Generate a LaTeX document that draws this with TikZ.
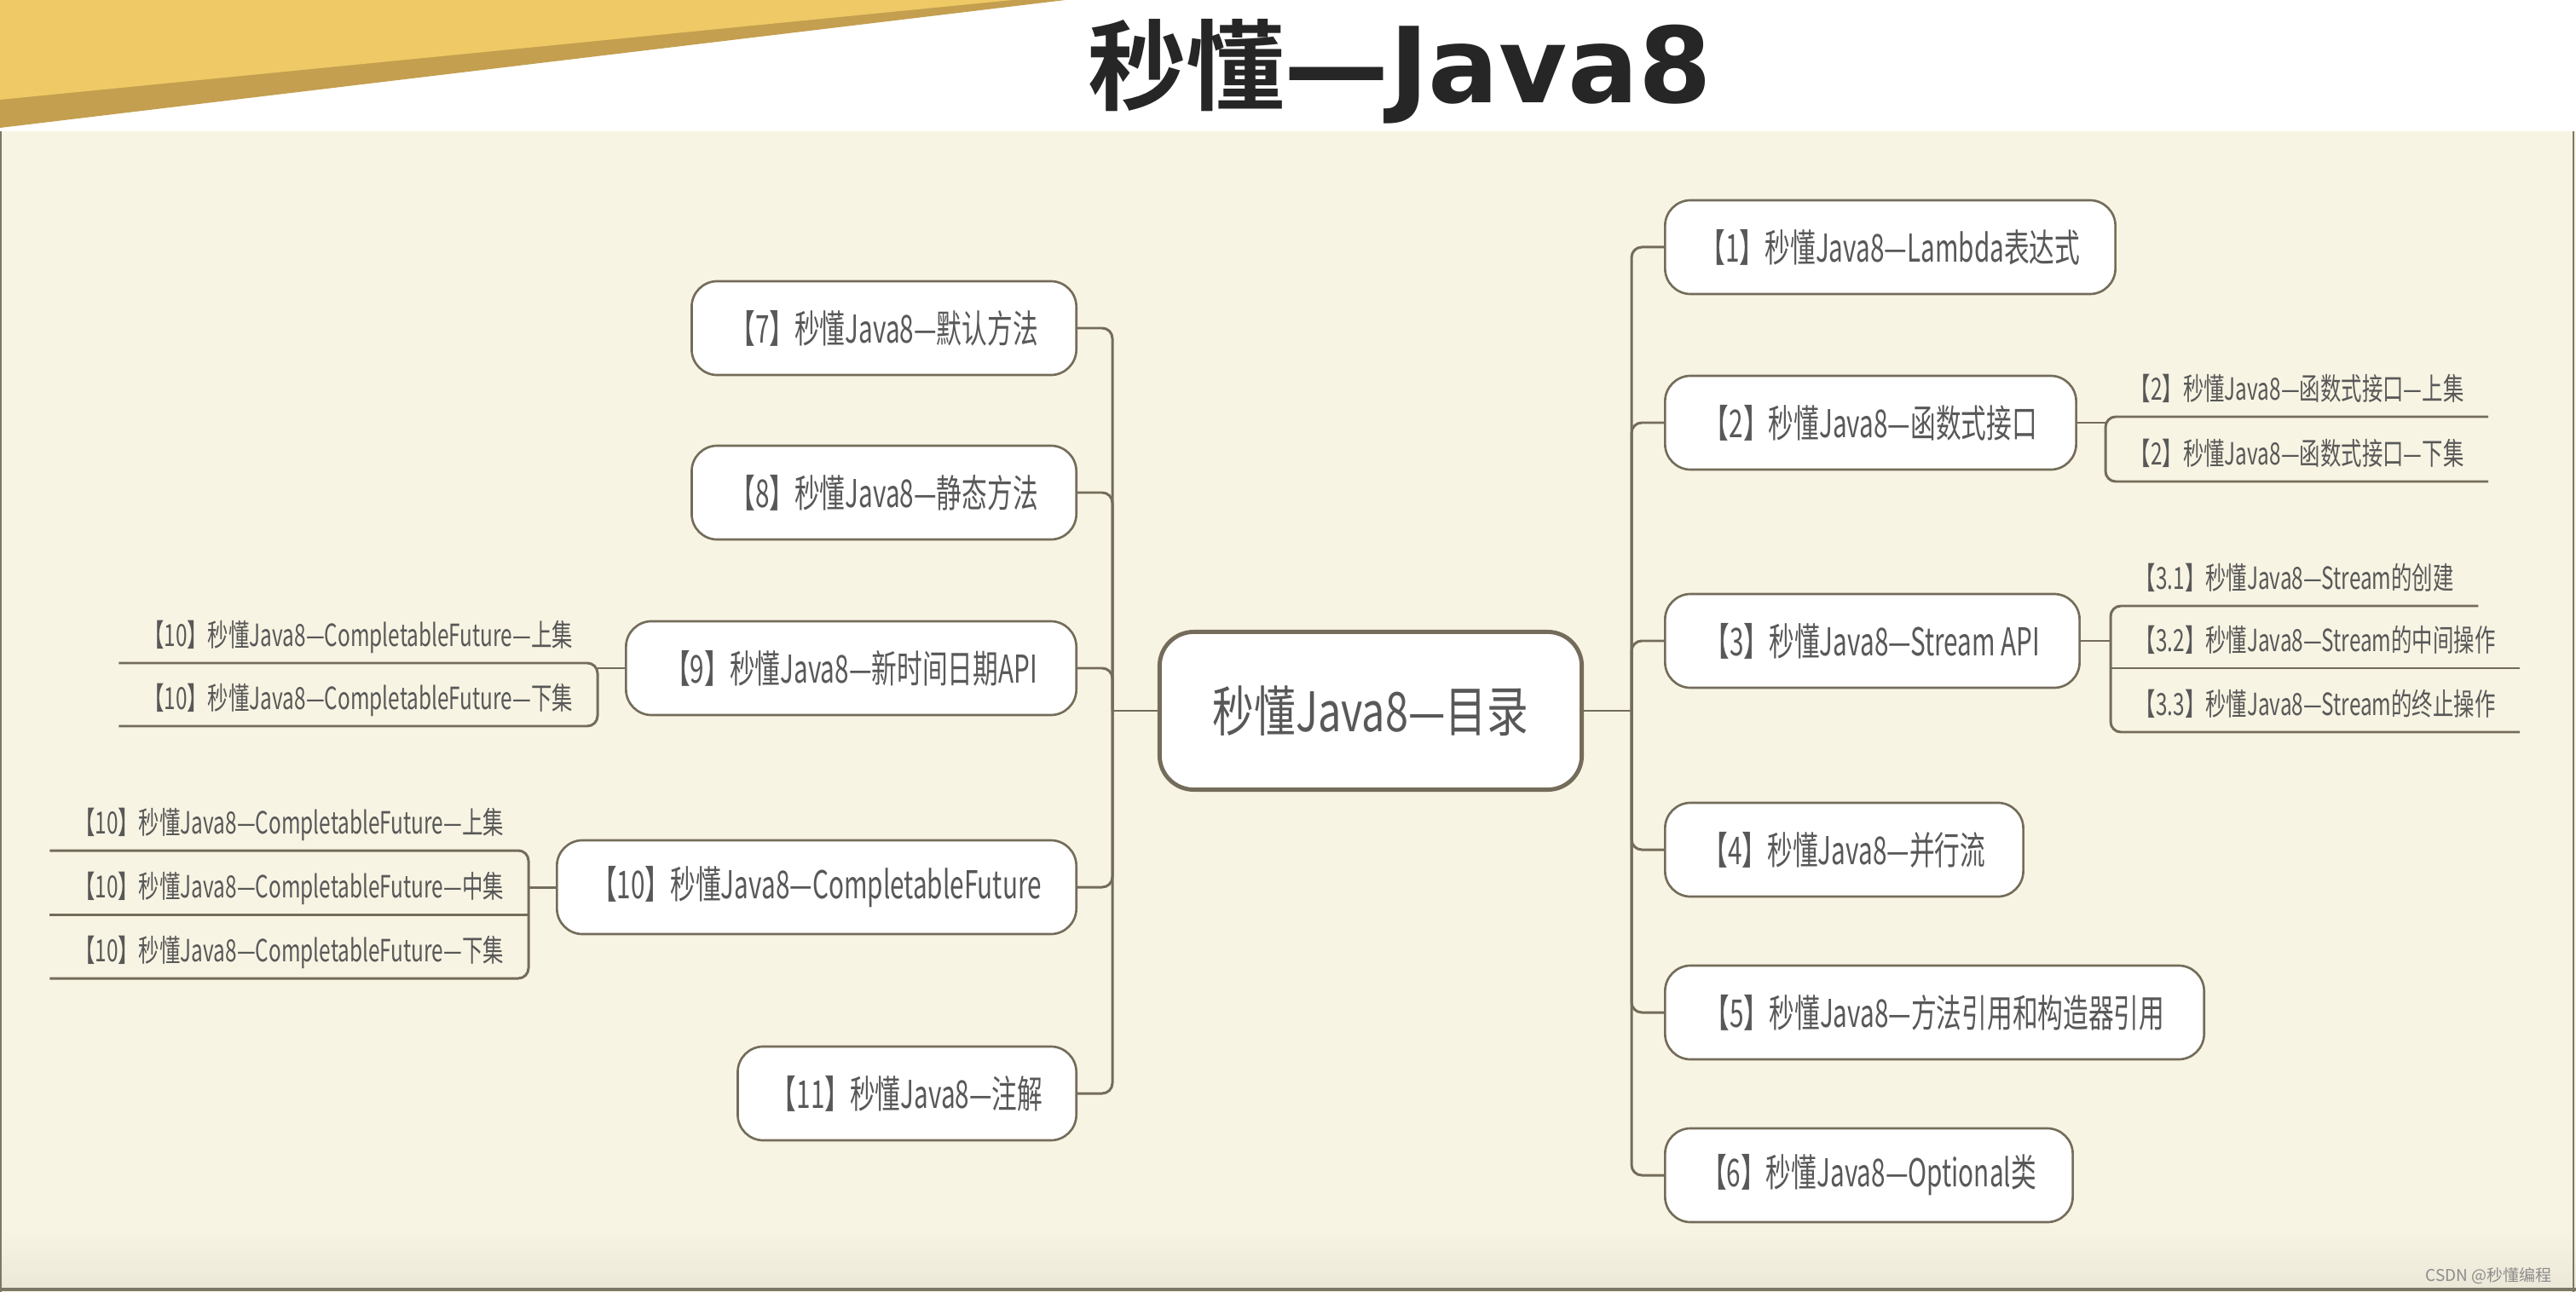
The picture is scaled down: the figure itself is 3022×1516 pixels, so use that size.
\documentclass[tikz,border=0pt]{standalone}
\usepackage{fontspec}
\setmainfont{Noto Sans CJK SC}[FakeStretch=0.66]
\newfontfamily\hubfont{Noto Sans CJK SC}[FakeStretch=0.76]
\newfontfamily\leaffont{Noto Sans CJK SC}[FakeStretch=0.68]
\newfontfamily\titlecjk{Noto Sans CJK SC Bold}
\newfontfamily\titlelatin{DejaVu Sans Bold}
\newfontfamily\markfont{Noto Sans CJK SC}
\usetikzlibrary{positioning,calc}

\definecolor{paper}{HTML}{F8F4E3}
\definecolor{paperdark}{HTML}{ECE8D8}
\definecolor{goldlight}{HTML}{EEC965}
\definecolor{golddark}{HTML}{C39F4F}
\definecolor{wire}{HTML}{746C5A}
\definecolor{ink}{HTML}{585858}
\definecolor{frame}{HTML}{7C7868}

\begin{document}
\begin{tikzpicture}[
    x=0.01cm, y=-0.01cm,
    hub/.style={draw=wire, line width=1.4pt, fill=white, rounded corners=0.4cm,
        minimum width=4.95cm, minimum height=1.85cm, text=ink,
        font=\hubfont\fontsize{18.2}{22}\selectfont},
    topic/.style={draw=wire, line width=0.75pt, fill=white, rounded corners=0.3cm,
        minimum height=1.1cm, inner xsep=0pt, text=ink,
        font=\fontsize{12.8}{15}\selectfont},
    leaf/.style={inner xsep=0.28cm, inner ysep=3.3pt, text height=0.8em, text depth=0.2em,
        text=ink, font=\leaffont\fontsize{10.2}{12}\selectfont},
    link/.style={draw=wire, line width=0.85pt, rounded corners=0.12cm},
    stub/.style={draw=wire, line width=0.85pt}]

\useasboundingbox (0,0) rectangle (3022,1516);

% --- page: white header, gold corner, cream paper
\fill[white] (0,0) rectangle (3022,154);
\fill[paper] (0,154) rectangle (3022,1516);
\shade[top color=paper, bottom color=paperdark] (0,1440) rectangle (3022,1512);
\fill[golddark] (0,0) -- (1250,0) -- (0,150) -- cycle;
\fill[goldlight] (0,0) -- (1188,0) -- (0,117) -- cycle;
\draw[frame, line width=1.2pt] (0,1513) -- (3022,1513);
\draw[frame, line width=0.4pt] (1,154) -- (1,1516);
\draw[frame, line width=0.4pt] (3019,154) -- (3019,1516);

\node[text=black!85, font=\fontsize{32.8}{38}\selectfont] (title) at (1642,84)
    {\titlecjk 秒懂\titlelatin\fontsize{35}{38}\selectfont —Java8};

% --- centre
\node[hub] (hub) at (1608,834) {秒懂Java8—目录};
\coordinate (rj) at (1914,834);
\coordinate (lj) at (1305,834);

% --- right branches
\node[topic, minimum width=5.28cm, anchor=west] (t1) at (1952,290) {【1】秒懂Java8—Lambda表达式};
\node[topic, minimum width=4.82cm, anchor=west] (t2) at (1952,496) {【2】秒懂Java8—函数式接口};
\node[topic, minimum width=4.86cm, anchor=west] (t3) at (1952,752) {【3】秒懂Java8—Stream API};
\node[topic, minimum width=4.20cm, anchor=west] (t4) at (1952,997) {【4】秒懂Java8—并行流};
\node[topic, minimum width=6.32cm, anchor=west] (t5) at (1952,1188) {【5】秒懂Java8—方法引用和构造器引用};
\node[topic, minimum width=4.78cm, anchor=west] (t6) at (1952,1379) {【6】秒懂Java8—Optional类};
\draw[stub] (hub.east) -- (rj);
\foreach \t in {t1,t2,t3,t4,t5,t6}
    \draw[link] (rj) |- (\t.west);

% --- left branches
\node[topic, minimum width=4.51cm, anchor=east] (t7) at (1264,385) {【7】秒懂Java8—默认方法};
\node[topic, minimum width=4.51cm, anchor=east] (t8) at (1264,578) {【8】秒懂Java8—静态方法};
\node[topic, minimum width=5.28cm, anchor=east] (t9) at (1264,784) {【9】秒懂Java8—新时间日期API};
\node[topic, minimum width=6.09cm, anchor=east] (t10) at (1264,1041) {【10】秒懂Java8—CompletableFuture};
\node[topic, minimum width=3.97cm, anchor=east] (t11) at (1264,1283) {【11】秒懂Java8—注解};
\draw[stub] (hub.west) -- (lj);
\foreach \t in {t7,t8,t9,t10,t11}
    \draw[link] (lj) |- (\t.east);

% --- leaves of [2]
\node[leaf, anchor=south west] (s21) at (2470,489) {【2】秒懂Java8—函数式接口—上集};
\node[leaf, anchor=south west] (s22) at (2470,565) {【2】秒懂Java8—函数式接口—下集};
\draw[stub] (t2.east) -- (t2.east -| s21.south west);
\draw[link] (s21.south east) -- (s21.south west) -- (s22.south west) -- (s22.south east);

% --- leaves of [3]
\node[leaf, anchor=south west] (s31) at (2476,711) {【3.1】秒懂Java8—Stream的创建};
\node[leaf, anchor=south west] (s32) at (2476,784) {【3.2】秒懂Java8—Stream的中间操作};
\node[leaf, anchor=south west] (s33) at (2476,859) {【3.3】秒懂Java8—Stream的终止操作};
\draw[stub] (t3.east) -- (t3.east -| s31.south west);
\draw[link] (s31.south east) -- (s31.south west) -- (s33.south west) -- (s33.south east);
\draw[stub] (s32.south west) -- (s32.south east);

% --- leaves of [9]
\node[leaf, anchor=south east] (s91) at (701,778) {【10】秒懂Java8—CompletableFuture—上集};
\node[leaf, anchor=south east] (s92) at (701,852) {【10】秒懂Java8—CompletableFuture—下集};
\draw[stub] (t9.west) -- (t9.west -| s91.south east);
\draw[link] (s91.south west) -- (s91.south east) -- (s92.south east) -- (s92.south west);

% --- leaves of [10]
\node[leaf, anchor=south east] (s101) at (620,998) {【10】秒懂Java8—CompletableFuture—上集};
\node[leaf, anchor=south east] (s102) at (620,1073) {【10】秒懂Java8—CompletableFuture—中集};
\node[leaf, anchor=south east] (s103) at (620,1148) {【10】秒懂Java8—CompletableFuture—下集};
\draw[stub] (t10.west) -- (t10.west -| s101.south east);
\draw[link] (s101.south west) -- (s101.south east) -- (s103.south east) -- (s103.south west);
\draw[stub] (s102.south west) -- (s102.south east);

\node[anchor=east, text=black!45, font=\markfont\fontsize{5.4}{6}\selectfont] (mark) at (3006,1497) {CSDN @秒懂编程};
\end{tikzpicture}
\end{document}
